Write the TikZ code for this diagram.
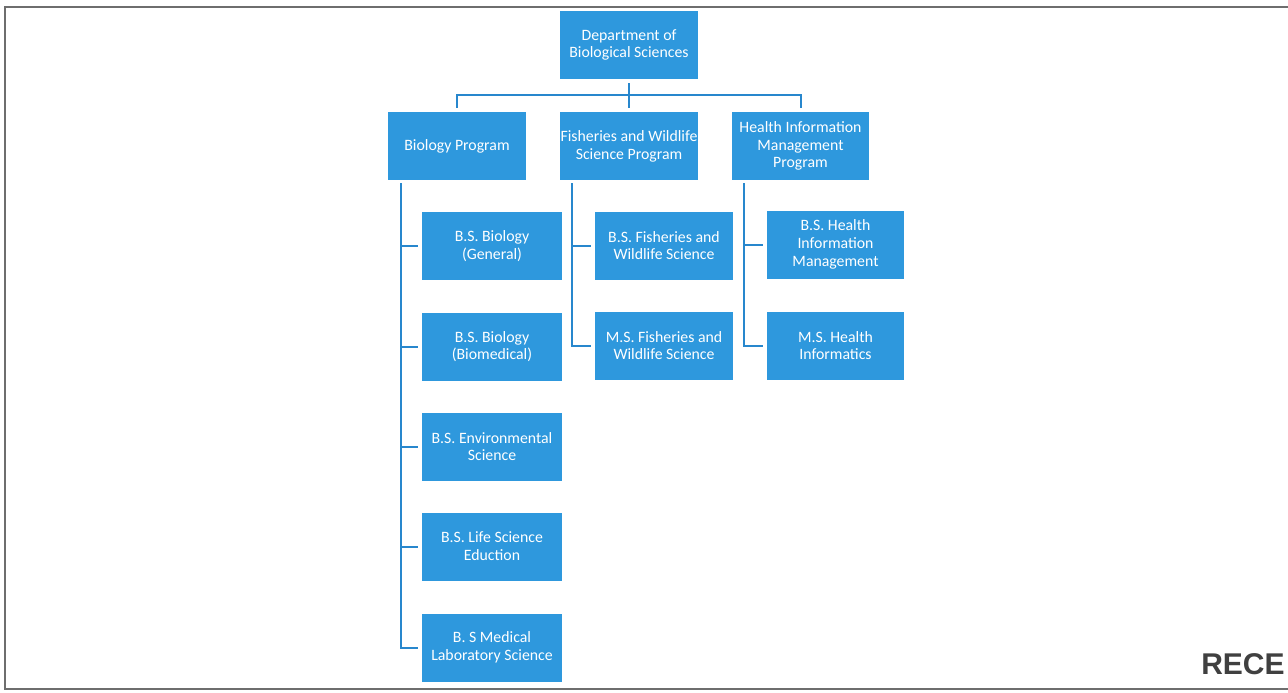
\documentclass[tikz,border=0pt]{standalone}
\usepackage{fontspec}
\setmainfont{Carlito}
\newfontfamily\stampfont{Liberation Sans}
\definecolor{boxblue}{RGB}{46,152,221}
\definecolor{lineblue}{RGB}{40,135,205}
\definecolor{framegray}{RGB}{110,110,110}
\begin{document}
\begin{tikzpicture}[x=0.5pt,y=-0.5pt,
  box/.style={fill=boxblue,text=white,inner sep=0pt,align=center,
    minimum width=69pt,minimum height=34pt,
    font=\fontsize{7.9pt}{8.9pt}\selectfont},
  wbox/.style={box,minimum width=70pt},
  conn/.style={draw=lineblue,line width=1pt},
  frame/.style={draw=framegray,line width=0.8pt}]
\useasboundingbox (0,0) rectangle (1288,692);
% frame
\coordinate (ftr) at (1288,7);
\coordinate (ftl) at (5,7);
\coordinate (fbl) at (5,689);
\coordinate (fbr) at (1288,689);
\draw[frame] (ftr) -- (ftl) -- (fbl) -- (fbr);
\node[anchor=east,font=\stampfont\bfseries\fontsize{15pt}{17pt}\selectfont,text=black!75,inner sep=0pt] (stamp) at (1285,664) {RECE};
% top
\node[box] (dept) at (629,45) {Department of\\Biological Sciences};
\node[box] (bio) at (457,146) {Biology Program};
\node[box] (fish) at (629,146) {Fisheries and Wildlife\\Science Program};
\node[box,minimum width=68.5pt] (hlth) at (800.5,146) {Health Information\\Management\\Program};
% biology children
\node[wbox] (b1) at (492,246) {B.S. Biology\\(General)};
\node[wbox] (b2) at (492,346.5) {B.S. Biology\\(Biomedical)};
\node[wbox] (b3) at (492,446.5) {B.S. Environmental\\Science};
\node[wbox] (b4) at (492,546.5) {B.S. Life Science\\Eduction};
\node[wbox] (b5) at (492,647.5) {B. S Medical\\Laboratory Science};
% fisheries children
\node[box] (f1) at (664,245.5) {B.S. Fisheries and\\Wildlife Science};
\node[box] (f2) at (664,345.5) {M.S. Fisheries and\\Wildlife Science};
% health children
\node[box,minimum width=68.5pt] (h1) at (835.5,244.5) {B.S. Health\\Information\\Management};
\node[box,minimum width=68.5pt] (h2) at (835.5,345.5) {M.S. Health\\Informatics};
% top connectors
\coordinate (bus) at (629,95);
\draw[conn] ([yshift=-2pt]dept.south) -- ([yshift=2pt]fish.north);
\draw[conn] ([yshift=2pt]bio.north) |- (bus) -| ([yshift=2pt]hlth.north);
% biology trunk
\coordinate (bt) at (401,183);
\draw[conn] (bt) |- ([xshift=-2pt]b5.west);
\foreach \c in {b1,b2,b3,b4}{\draw[conn] (bt |- \c.west) -- ([xshift=-2pt]\c.west);}
% fisheries trunk
\coordinate (ft) at (572,183);
\draw[conn] (ft) |- ([xshift=-2pt]f2.west);
\draw[conn] (ft |- f1.west) -- ([xshift=-2pt]f1.west);
% health trunk
\coordinate (ht) at (744,183);
\draw[conn] (ht) |- ([xshift=-2pt]h2.west);
\draw[conn] (ht |- h1.west) -- ([xshift=-2pt]h1.west);
\end{tikzpicture}
\end{document}
